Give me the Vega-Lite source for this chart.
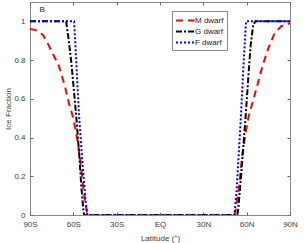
{
  "$schema": "https://vega.github.io/schema/vega-lite/v6.json",
  "autosize": {"type": "fit", "contains": "padding"},
  "width": 307,
  "height": 243,
  "padding": {"left": 4, "top": 1, "right": 9, "bottom": 1},
  "background": "white",
  "config": {
    "font": "Liberation Sans",
    "view": {"stroke": "#888888", "strokeWidth": 1},
    "axis": {"grid": false, "domainColor": "#888888", "tickColor": "#666666", "labelColor": "#404040", "titleColor": "#404040", "labelFontSize": 8, "titleFontSize": 8, "titleFontWeight": "normal", "tickSize": -3, "labelPadding": 8, "labelFlush": false}
  },
  "datasets": {
    "ice": [
      {"lat": -90, "frac": 0.96, "star": "M dwarf"},
      {"lat": -86, "frac": 0.955, "star": "M dwarf"},
      {"lat": -81, "frac": 0.93, "star": "M dwarf"},
      {"lat": -78, "frac": 0.89, "star": "M dwarf"},
      {"lat": -74, "frac": 0.83, "star": "M dwarf"},
      {"lat": -70, "frac": 0.77, "star": "M dwarf"},
      {"lat": -66, "frac": 0.67, "star": "M dwarf"},
      {"lat": -62.8, "frac": 0.57, "star": "M dwarf"},
      {"lat": -60, "frac": 0.5, "star": "M dwarf"},
      {"lat": -57, "frac": 0.38, "star": "M dwarf"},
      {"lat": -54.8, "frac": 0.26, "star": "M dwarf"},
      {"lat": -52.8, "frac": 0.12, "star": "M dwarf"},
      {"lat": -51, "frac": 0.03, "star": "M dwarf"},
      {"lat": -50.2, "frac": 0, "star": "M dwarf"},
      {"lat": 0, "frac": 0, "star": "M dwarf"},
      {"lat": 51.5, "frac": 0, "star": "M dwarf"},
      {"lat": 52.5, "frac": 0.03, "star": "M dwarf"},
      {"lat": 54.8, "frac": 0.15, "star": "M dwarf"},
      {"lat": 56.8, "frac": 0.3, "star": "M dwarf"},
      {"lat": 59.4, "frac": 0.43, "star": "M dwarf"},
      {"lat": 61.4, "frac": 0.51, "star": "M dwarf"},
      {"lat": 64.8, "frac": 0.6, "star": "M dwarf"},
      {"lat": 68.1, "frac": 0.69, "star": "M dwarf"},
      {"lat": 71.4, "frac": 0.78, "star": "M dwarf"},
      {"lat": 75, "frac": 0.86, "star": "M dwarf"},
      {"lat": 79.4, "frac": 0.94, "star": "M dwarf"},
      {"lat": 84, "frac": 0.975, "star": "M dwarf"},
      {"lat": 90, "frac": 0.99, "star": "M dwarf"},
      {"lat": -90, "frac": 1, "star": "G dwarf"},
      {"lat": -65, "frac": 1, "star": "G dwarf"},
      {"lat": -63.5, "frac": 0.92, "star": "G dwarf"},
      {"lat": -61.4, "frac": 0.79, "star": "G dwarf"},
      {"lat": -58.1, "frac": 0.52, "star": "G dwarf"},
      {"lat": -56, "frac": 0.32, "star": "G dwarf"},
      {"lat": -54.5, "frac": 0.15, "star": "G dwarf"},
      {"lat": -53, "frac": 0.02, "star": "G dwarf"},
      {"lat": -52.5, "frac": 0, "star": "G dwarf"},
      {"lat": 0, "frac": 0, "star": "G dwarf"},
      {"lat": 53.5, "frac": 0, "star": "G dwarf"},
      {"lat": 54.3, "frac": 0.04, "star": "G dwarf"},
      {"lat": 56.1, "frac": 0.2, "star": "G dwarf"},
      {"lat": 59.4, "frac": 0.52, "star": "G dwarf"},
      {"lat": 61.5, "frac": 0.75, "star": "G dwarf"},
      {"lat": 62.8, "frac": 0.88, "star": "G dwarf"},
      {"lat": 64.5, "frac": 0.98, "star": "G dwarf"},
      {"lat": 66, "frac": 1, "star": "G dwarf"},
      {"lat": 90, "frac": 1, "star": "G dwarf"},
      {"lat": -90, "frac": 1, "star": "F dwarf"},
      {"lat": -59.5, "frac": 1, "star": "F dwarf"},
      {"lat": -58, "frac": 0.8, "star": "F dwarf"},
      {"lat": -56.1, "frac": 0.52, "star": "F dwarf"},
      {"lat": -53.5, "frac": 0.25, "star": "F dwarf"},
      {"lat": -51.5, "frac": 0.07, "star": "F dwarf"},
      {"lat": -50.2, "frac": 0, "star": "F dwarf"},
      {"lat": 0, "frac": 0, "star": "F dwarf"},
      {"lat": 51.5, "frac": 0, "star": "F dwarf"},
      {"lat": 53, "frac": 0.12, "star": "F dwarf"},
      {"lat": 56.1, "frac": 0.52, "star": "F dwarf"},
      {"lat": 58, "frac": 0.8, "star": "F dwarf"},
      {"lat": 59.6, "frac": 1, "star": "F dwarf"},
      {"lat": 90, "frac": 1, "star": "F dwarf"}
    ]
  },
  "layer": [
    {
      "data": {"name": "ice"},
      "mark": {"type": "line", "strokeWidth": 2, "clip": true},
      "encoding": {
        "x": {"field": "lat", "type": "quantitative", "scale": {"domain": [-90, 90], "nice": false, "zero": false},
          "axis": {"values": [-90, -60, -30, 0, 30, 60, 90], "labelExpr": "datum.value < 0 ? (-datum.value) + 'S' : datum.value > 0 ? datum.value + 'N' : 'EQ'", "title": "Latitude (°)", "titlePadding": 6, "domain": false}},
        "y": {"field": "frac", "type": "quantitative", "scale": {"domain": [0, 1.1], "nice": false},
          "axis": {"values": [0, 0.2, 0.4, 0.6, 0.8, 1], "format": "~g", "title": "Ice Fraction", "titlePadding": 1, "domain": false}},
        "color": {"field": "star", "type": "nominal", "sort": ["M dwarf", "G dwarf", "F dwarf"],
          "scale": {"domain": ["M dwarf", "G dwarf", "F dwarf"], "range": ["#ff0000", "#000000", "#0000ff"]},
          "legend": {"title": null, "orient": "none", "legendX": 142, "legendY": 9, "symbolType": "M-1,0H2.4", "symbolSize": 121, "symbolStrokeWidth": 2, "symbolFillColor": "transparent", "labelFontSize": 8, "labelColor": "#222222", "rowPadding": -2, "padding": 3, "strokeColor": "#888888", "fillColor": "white", "labelOffset": 7}},
        "strokeDash": {"field": "star", "type": "nominal", "sort": ["M dwarf", "G dwarf", "F dwarf"],
          "scale": {"domain": ["M dwarf", "G dwarf", "F dwarf"], "range": [[7, 5], [6, 2, 2, 2], [2, 2]]},
          "legend": null}
      }
    },
    {
      "data": {"values": [{"label": "B"}]},
      "mark": {"type": "text", "fontSize": 8, "color": "#222222", "align": "left"},
      "encoding": {
        "x": {"datum": -83.5, "type": "quantitative", "axis": {"orient": "top", "values": [-90, -60, -30, 0, 30, 60, 90], "labels": false, "title": null, "domain": false}},
        "y": {"datum": 1.06, "type": "quantitative", "axis": {"orient": "right", "values": [0, 0.2, 0.4, 0.6, 0.8, 1], "labels": false, "title": null, "domain": false}},
        "text": {"field": "label"}
      }
    }
  ],
  "resolve": {"axis": {"x": "independent", "y": "independent"}}
}
